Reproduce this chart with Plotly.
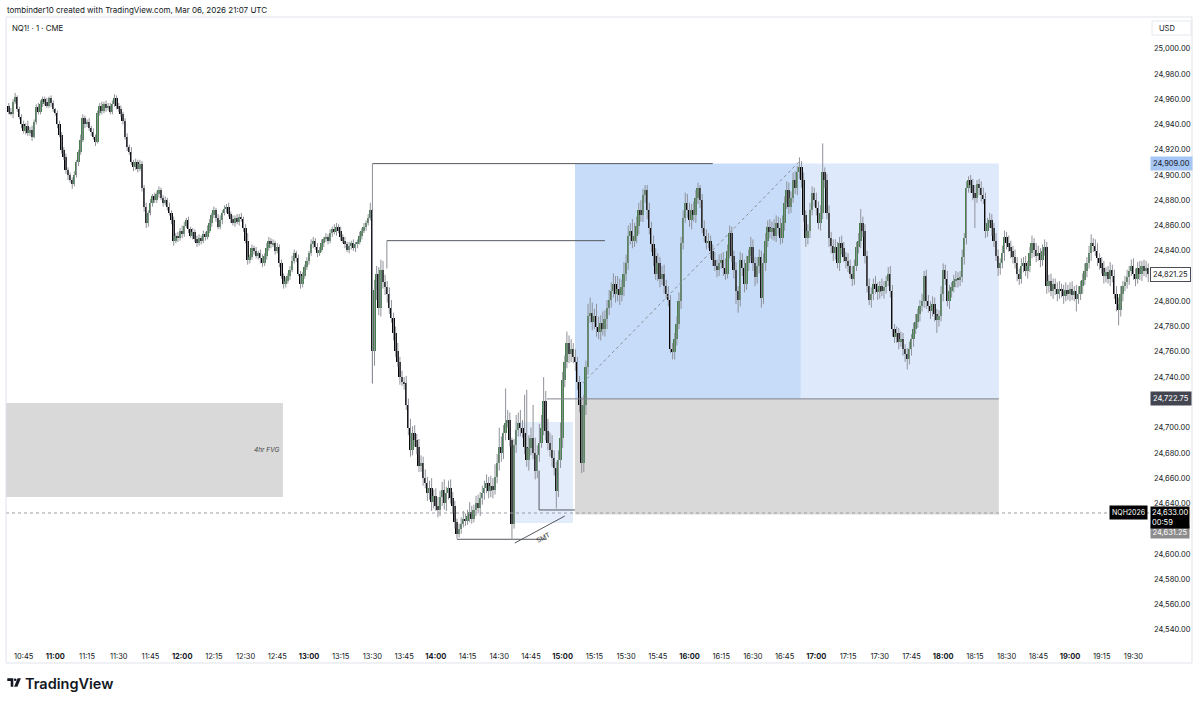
import pandas as pd
import plotly.graph_objects as go

FONT = "Inter, Roboto, sans-serif"
TEXT = "#131722"

# NQ1! 1-minute candles, one row per 15 minutes
start_time = "2026-03-06 10:38"
first_open = 24955

closes = [
    24950, 24948, 24958, 24962, 24952, 24946, 24940, 24935, 24939, 24933, 24936, 24930, 24942, 24954, 24950,  # 10:38
    24956, 24960, 24958, 24955, 24961, 24957, 24952, 24949, 24940, 24932, 24920, 24914, 24904, 24900, 24896,  # 10:53
    24893, 24900, 24910, 24918, 24928, 24945, 24940, 24942, 24937, 24934, 24930, 24926, 24949, 24955, 24951,  # 11:08
    24956, 24953, 24955, 24950, 24956, 24961, 24955, 24952, 24948, 24943, 24930, 24922, 24918, 24910, 24906,  # 11:23
    24910, 24905, 24909, 24890, 24875, 24862, 24870, 24878, 24883, 24880, 24885, 24888, 24882, 24878, 24880,  # 11:38
    24875, 24870, 24864, 24848, 24852, 24850, 24856, 24853, 24860, 24864, 24857, 24852, 24855, 24849, 24846,  # 11:53
    24850, 24848, 24853, 24851, 24856, 24862, 24868, 24872, 24866, 24859, 24864, 24870, 24873, 24875, 24869,  # 12:08
    24865, 24862, 24866, 24863, 24867, 24865, 24858, 24848, 24833, 24835, 24842, 24840, 24836, 24838, 24834,  # 12:23
    24830, 24836, 24842, 24848, 24845, 24846, 24840, 24843, 24830, 24820, 24814, 24816, 24820, 24825, 24832,  # 12:38
    24838, 24834, 24822, 24814, 24820, 24827, 24832, 24838, 24845, 24848, 24843, 24838, 24841, 24846, 24849,  # 12:53
    24851, 24848, 24854, 24857, 24855, 24859, 24856, 24851, 24848, 24845, 24841, 24844, 24846, 24842, 24845,  # 13:08
    24847, 24852, 24856, 24859, 24862, 24866, 24872, 24761, 24809, 24822, 24795, 24825, 24815, 24811, 24806,  # 13:23
    24795, 24787, 24775, 24761, 24752, 24740, 24736, 24735, 24718, 24700, 24682, 24696, 24690, 24685, 24670,  # 13:38
    24672, 24660, 24656, 24648, 24652, 24641, 24646, 24638, 24635, 24645, 24651, 24640, 24648, 24652, 24644,  # 13:53
    24638, 24625, 24616, 24620, 24624, 24628, 24626, 24630, 24633, 24628, 24635, 24640, 24636, 24644, 24648,  # 14:08
    24652, 24656, 24650, 24654, 24651, 24661, 24672, 24685, 24680, 24696, 24704, 24706, 24690, 24624, 24686,  # 14:23
    24698, 24704, 24700, 24696, 24685, 24674, 24684, 24692, 24680, 24666, 24678, 24688, 24700, 24721, 24697,  # 14:38
    24688, 24682, 24676, 24668, 24650, 24674, 24692, 24738, 24752, 24767, 24758, 24762, 24756, 24752, 24736,  # 14:53
    24718, 24672, 24718, 24748, 24788, 24791, 24784, 24788, 24780, 24776, 24783, 24778, 24786, 24795, 24801,  # 15:08
    24808, 24814, 24806, 24810, 24805, 24811, 24822, 24830, 24852, 24856, 24848, 24852, 24860, 24872, 24868,  # 15:23
    24884, 24888, 24872, 24858, 24845, 24836, 24822, 24830, 24818, 24822, 24812, 24806, 24801, 24762, 24760,  # 15:38
    24770, 24782, 24800, 24846, 24866, 24878, 24872, 24864, 24872, 24868, 24882, 24890, 24880, 24858, 24852,  # 15:53
    24846, 24848, 24840, 24833, 24828, 24825, 24830, 24833, 24826, 24822, 24840, 24854, 24836, 24825, 24808,  # 16:08
    24801, 24833, 24826, 24814, 24830, 24836, 24843, 24830, 24819, 24828, 24835, 24803, 24830, 24848, 24859,  # 16:23
    24855, 24858, 24852, 24862, 24858, 24850, 24862, 24878, 24888, 24875, 24882, 24896, 24890, 24902, 24906,  # 16:38
    24896, 24868, 24850, 24856, 24872, 24886, 24880, 24874, 24862, 24870, 24902, 24896, 24870, 24850, 24844,  # 16:53
    24838, 24843, 24830, 24846, 24842, 24835, 24832, 24828, 24822, 24818, 24828, 24843, 24848, 24862, 24856,  # 17:08
    24836, 24812, 24801, 24806, 24814, 24810, 24807, 24812, 24808, 24811, 24816, 24822, 24808, 24778, 24772,  # 17:23
    24775, 24768, 24770, 24762, 24758, 24754, 24762, 24770, 24778, 24784, 24790, 24796, 24800, 24820, 24800,  # 17:38
    24796, 24792, 24798, 24790, 24785, 24788, 24806, 24825, 24818, 24800, 24808, 24811, 24816, 24818, 24817,  # 17:53
    24819, 24835, 24850, 24890, 24896, 24892, 24886, 24882, 24893, 24890, 24884, 24881, 24856, 24862, 24864,  # 18:08
    24858, 24848, 24836, 24826, 24830, 24838, 24851, 24846, 24843, 24840, 24835, 24830, 24822, 24818, 24828,  # 18:23
    24830, 24824, 24828, 24838, 24846, 24841, 24836, 24838, 24833, 24840, 24843, 24812, 24816, 24808, 24814,  # 18:38
    24810, 24806, 24810, 24808, 24804, 24809, 24806, 24810, 24805, 24808, 24802, 24806, 24812, 24817, 24824,  # 18:53
    24830, 24838, 24846, 24844, 24840, 24834, 24830, 24826, 24820, 24823, 24818, 24825, 24820, 24806, 24798,  # 19:08
    24793, 24806, 24812, 24815, 24819, 24824, 24828, 24822, 24818, 24826, 24822, 24828, 24824, 24826, 24821.25,  # 19:23
]

# wick lengths (points) above the body top and below the body bottom
upper_wick = [
    2, 3, 2, 3, 1, 2, 2, 3, 2, 4, 2, 3, 2, 2, 3,
    3, 2, 2, 3, 1, 2, 2, 1, 2, 3, 2, 2, 3, 2, 2,
    2, 3, 2, 2, 4, 3, 2, 2, 3, 2, 3, 2, 2, 2, 3,
    2, 3, 2, 2, 3, 3, 2, 2, 3, 2, 2, 3, 2, 4, 2,
    3, 2, 3, 2, 2, 3, 2, 3, 2, 3, 2, 3, 2, 2, 3,
    2, 3, 2, 3, 2, 3, 2, 4, 3, 2, 3, 2, 3, 2, 3,
    3, 2, 3, 2, 4, 3, 2, 3, 2, 3, 4, 2, 3, 2, 3,
    2, 3, 2, 3, 2, 3, 2, 3, 6, 2, 3, 2, 3, 2, 3,
    3, 2, 4, 3, 2, 3, 2, 3, 2, 3, 2, 3, 2, 3, 4,
    3, 2, 3, 2, 3, 2, 3, 2, 4, 3, 2, 3, 2, 3, 2,
    3, 2, 3, 2, 4, 3, 2, 3, 2, 3, 2, 3, 2, 3, 2,
    2, 3, 2, 3, 2, 3, 6, 1, 8, 6, 5, 8, 7, 6, 5,
    5, 6, 4, 5, 6, 4, 5, 4, 6, 5, 7, 5, 6, 5, 6,
    6, 5, 7, 5, 6, 8, 5, 6, 7, 5, 6, 8, 5, 6, 7,
    5, 4, 3, 4, 5, 6, 4, 5, 8, 5, 4, 6, 7, 5, 6,
    6, 7, 5, 8, 6, 10, 7, 15, 8, 6, 27, 8, 6, 2, 5,
    12, 8, 10, 6, 30, 45, 10, 8, 26, 12, 8, 15, 10, 19, 8,
    10, 8, 12, 6, 5, 8, 12, 6, 5, 9, 6, 8, 5, 6, 4,
    5, 6, 8, 5, 10, 12, 8, 6, 10, 8, 6, 9, 7, 6, 8,
    7, 8, 6, 10, 8, 6, 9, 7, 8, 6, 9, 10, 7, 6, 8,
    5, 4, 4, 6, 5, 7, 6, 8, 5, 6, 7, 5, 6, 4, 5,
    5, 6, 7, 5, 6, 8, 7, 6, 5, 7, 6, 4, 2, 5, 6,
    5, 6, 4, 5, 6, 5, 7, 5, 6, 8, 5, 6, 5, 4, 6,
    4, 6, 5, 7, 6, 5, 8, 6, 5, 7, 6, 5, 8, 6, 5,
    6, 5, 7, 6, 5, 8, 6, 5, 7, 6, 5, 6, 7, 5, 8,
    5, 6, 4, 5, 6, 5, 4, 6, 5, 6, 23, 4, 5, 6, 5,
    5, 6, 4, 5, 6, 5, 4, 6, 5, 6, 5, 4, 6, 11, 5,
    5, 4, 6, 5, 4, 6, 5, 4, 6, 5, 4, 5, 6, 5, 4,
    5, 4, 6, 5, 4, 5, 6, 4, 5, 6, 4, 5, 6, 4, 5,
    5, 4, 6, 5, 4, 5, 6, 5, 4, 6, 5, 4, 5, 6, 5,
    5, 6, 4, 5, 3, 4, 5, 6, 3, 4, 5, 6, 5, 4, 6,
    5, 4, 6, 5, 4, 6, 5, 4, 6, 5, 4, 6, 5, 4, 6,
    5, 6, 4, 5, 6, 4, 5, 6, 4, 5, 6, 4, 5, 6, 4,
    4, 5, 6, 4, 5, 6, 4, 5, 6, 4, 5, 6, 4, 5, 6,
    5, 6, 7, 4, 5, 6, 4, 5, 6, 4, 5, 6, 4, 5, 6,
    5, 6, 4, 5, 6, 4, 5, 6, 4, 5, 6, 4, 5, 6, 4,
]
lower_wick = [
    2, 1, 3, 2, 2, 2, 3, 2, 3, 2, 2, 3, 1, 2, 2,
    2, 2, 3, 2, 2, 3, 2, 2, 3, 2, 3, 2, 3, 4, 2,
    4, 2, 2, 3, 2, 2, 3, 2, 2, 3, 2, 3, 1, 2, 3,
    2, 3, 2, 2, 2, 2, 3, 2, 2, 3, 2, 3, 2, 2, 3,
    2, 3, 2, 3, 4, 4, 3, 2, 3, 2, 2, 3, 2, 3, 2,
    3, 2, 3, 4, 2, 3, 2, 3, 2, 2, 3, 2, 3, 2, 3,
    2, 3, 2, 3, 2, 2, 3, 2, 3, 2, 2, 3, 2, 3, 2,
    3, 2, 3, 2, 3, 2, 3, 2, 4, 3, 2, 3, 2, 3, 4,
    3, 2, 3, 2, 3, 2, 3, 2, 3, 2, 4, 3, 2, 3, 2,
    2, 3, 2, 4, 3, 2, 2, 3, 2, 3, 2, 3, 2, 2, 3,
    2, 3, 2, 3, 2, 3, 2, 3, 2, 3, 2, 3, 3, 2, 3,
    3, 2, 3, 2, 3, 2, 2, 26, 12, 8, 6, 7, 5, 6, 7,
    5, 4, 6, 5, 4, 6, 3, 5, 4, 6, 5, 4, 5, 6, 5,
    5, 6, 4, 6, 5, 7, 5, 4, 6, 5, 7, 5, 6, 5, 4,
    6, 5, 4, 3, 4, 3, 4, 3, 5, 4, 3, 5, 4, 6, 5,
    5, 4, 6, 5, 7, 4, 5, 6, 7, 5, 6, 4, 5, 12, 4,
    6, 5, 7, 4, 6, 5, 8, 6, 5, 7, 6, 5, 4, 6, 7,
    6, 5, 7, 6, 14, 5, 6, 8, 6, 5, 7, 6, 5, 7, 6,
    6, 8, 7, 8, 6, 5, 7, 6, 8, 6, 7, 5, 6, 8, 6,
    6, 5, 7, 6, 8, 5, 7, 6, 5, 7, 6, 5, 6, 7, 5,
    5, 6, 7, 5, 6, 8, 5, 6, 7, 5, 6, 4, 5, 3, 6,
    6, 5, 4, 6, 5, 4, 6, 5, 7, 5, 6, 5, 6, 4, 5,
    5, 4, 6, 5, 4, 6, 5, 4, 6, 5, 4, 6, 5, 7, 10,
    10, 5, 6, 7, 5, 6, 4, 6, 7, 5, 6, 8, 5, 6, 5,
    5, 6, 4, 5, 6, 5, 4, 6, 5, 6, 5, 4, 5, 6, 5,
    6, 5, 7, 5, 6, 4, 5, 6, 5, 6, 5, 6, 5, 7, 6,
    6, 5, 4, 6, 5, 4, 6, 5, 4, 6, 5, 4, 5, 6, 5,
    6, 5, 4, 6, 5, 4, 6, 5, 4, 6, 5, 4, 5, 6, 5,
    5, 6, 4, 5, 6, 8, 4, 5, 6, 4, 5, 6, 4, 5, 6,
    5, 6, 4, 6, 10, 5, 4, 6, 5, 4, 6, 5, 4, 5, 6,
    5, 4, 6, 5, 4, 6, 6, 24, 4, 6, 5, 4, 6, 5, 4,
    6, 5, 4, 6, 5, 4, 6, 5, 4, 6, 5, 4, 6, 5, 4,
    5, 4, 6, 5, 4, 6, 5, 4, 6, 5, 4, 6, 5, 4, 6,
    5, 6, 4, 5, 6, 4, 5, 6, 4, 5, 10, 4, 5, 6, 4,
    5, 4, 6, 5, 4, 6, 5, 4, 6, 5, 4, 6, 5, 4, 6,
    12, 5, 6, 4, 5, 6, 4, 5, 6, 4, 5, 6, 4, 5, 6,
]

time_ticks = ["10:45", "11:00", "11:15", "11:30", "11:45", "12:00", "12:15", "12:30", "12:45",
              "13:00", "13:15", "13:30", "13:45", "14:00", "14:15", "14:30", "14:45", "15:00",
              "15:15", "15:30", "15:45", "16:00", "16:15", "16:30", "16:45", "17:00", "17:15",
              "17:30", "17:45", "18:00", "18:15", "18:30", "18:45", "19:00", "19:15", "19:30"]
# price scale ticks (24,620 / 24,720 / 24,820 sit under the price tags)
price_ticks = [24540, 24560, 24580, 24600, 24640, 24660, 24680, 24700, 24740, 24760,
               24780, 24800, 24840, 24860, 24880, 24900, 24920, 24940, 24960, 24980, 25000]

day = "2026-03-06 "
x_range = [day + "10:36:40", day + "19:37:50"]
y_range = [24527.9, 25022.7]

times = pd.date_range(start_time, periods=len(closes), freq="min")
opens = [first_open] + closes[:-1]
highs = [max(o, c) + u for o, c, u in zip(opens, closes, upper_wick)]
lows = [min(o, c) - d for o, c, d in zip(opens, closes, lower_wick)]

wick_x, wick_y = [], []
for t, lo, hi in zip(times, lows, highs):
    wick_x += [t, t, None]
    wick_y += [lo, hi, None]

body_base = [min(o, c) for o, c in zip(opens, closes)]
body_size = [max(abs(c - o), 0.9) for o, c in zip(opens, closes)]
body_color = ["#467f4d" if c >= o else "#050505" for o, c in zip(opens, closes)]


def px(x):
    return (x - 6) / 1144


def py(y):
    return (645 - y) / 625


fig = go.Figure()
fig.add_trace(go.Scatter(x=wick_x, y=wick_y, mode="lines",
                         line=dict(color="#8f929a", width=1), hoverinfo="skip"))
fig.add_trace(go.Bar(x=times, y=body_size, base=body_base, width=56000,
                     marker=dict(color=body_color, line=dict(width=0)), hoverinfo="skip"))

shapes = []


def box(x0, x1, y0, y1, color, xref="x"):
    shapes.append(dict(type="rect", xref=xref, yref="y", x0=x0, x1=x1, y0=y0, y1=y1,
                       fillcolor=color, line=dict(width=0), layer="below"))


def seg(x0, y0, x1, y1, color="#5d606b", dash="solid", xref="x"):
    shapes.append(dict(type="line", xref=xref, yref="y", x0=x0, y0=y0, x1=x1, y1=y1,
                       line=dict(color=color, width=1, dash=dash), layer="above"))


# zones
box(x_range[0], day + "12:47:40", 24645.0, 24719.5, "#d9d9d9")            # 4hr FVG
box(day + "15:05:50", day + "16:52:40", 24722.75, 24909, "#c6dcf8")       # target, elapsed
box(day + "16:52:40", day + "18:26:20", 24722.75, 24909, "#deeafc")       # target, remaining
box(day + "15:05:50", day + "18:26:20", 24631.25, 24722.75, "#d9d9d9")    # stop zone
box(day + "14:37:20", day + "15:04:50", 24624.5, 24704.4, "#e2ecfb")      # small box

# drawn lines
seg(day + "13:30", 24909, day + "16:11", 24909, "#55585f")
seg(day + "13:30", 24735, day + "13:30", 24909, "#8a8d95")
seg(day + "13:36:50", 24848, day + "15:20", 24848, "#55585f")
seg(day + "13:36:50", 24826, day + "13:36:50", 24848, "#8a8d95")
seg(day + "14:52:30", 24722.75, day + "18:26:20", 24722.75, "#80838c")
seg(day + "14:48:50", 24666, day + "14:48:50", 24634.8, "#55585f")
seg(day + "14:48:50", 24634.8, day + "15:05:50", 24634.8, "#55585f")
seg(day + "14:10", 24611.6, day + "14:52:30", 24611.6, "#55585f")
seg(day + "14:37:20", 24608.6, day + "15:01", 24630, "#55585f")
seg(day + "15:09:30", 24735.3, day + "16:52:40", 24911.9, "#8a8d95", "dot")
seg(0, 24632.4, 1, 24632.4, "#9a9da5", "dot", xref="paper")

# frame around chart and price scale
shapes.append(dict(type="rect", xref="paper", yref="paper", x0=px(6), x1=px(1192),
                   y0=py(663), y1=py(17), line=dict(color="#e0e3eb", width=1)))
shapes.append(dict(type="rect", xref="paper", yref="paper", x0=px(1152), x1=px(1191),
                   y0=py(35), y1=py(21), line=dict(color="#e6e8ee", width=1)))

# TradingView mark
logo_t = "M {} {} L {} {} L {} {} L {} {} L {} {} L {} {} Z".format(
    px(7.3), py(678.3), px(13.3), py(678.3), px(13.3), py(686.7),
    px(10.7), py(686.7), px(10.7), py(681), px(7.3), py(681))
logo_v = "M {} {} L {} {} L {} {} L {} {} Z".format(
    px(17.6), py(678.3), px(20.9), py(678.3), px(17.4), py(686.7), px(14.1), py(686.7))
for p in (logo_t, logo_v):
    shapes.append(dict(type="path", xref="paper", yref="paper", path=p,
                       fillcolor=TEXT, line=dict(width=0)))
shapes.append(dict(type="circle", xref="paper", yref="paper", x0=px(13.9), x1=px(16.5),
                   y0=py(681.0), y1=py(678.4), fillcolor=TEXT, line=dict(width=0)))

ann = []


def note(text, x, y, size=7.5, color=TEXT, xanchor="left", xref="paper", yref="paper", **kw):
    ann.append(dict(text=text, x=x, y=y, xref=xref, yref=yref, xanchor=xanchor,
                    yanchor=kw.pop("yanchor", "middle"), showarrow=False,
                    font=dict(family=FONT, size=size, color=color), **kw))


note("tombinder10 created with TradingView.com, Mar 06, 2026 21:07 UTC", px(5), py(10), 8)
note("NQ1! · 1 · CME", px(10), py(28), 7.8)
note("USD", px(1167), py(28), 7.5, xanchor="center")
note("TradingView", px(23), py(683), 14.5, font_weight=600)
note("<i>4hr FVG</i>", day + "12:46:40", 24682, 6.5, "#444", xanchor="right", xref="x", yref="y")
note("SMT", day + "14:50:40", 24613, 6.5, "#333", xanchor="center", xref="x", yref="y",
     textangle=-28)

# price scale labels
scale_labels = [
    ("24,909.00", 24909, "#a6c6f6", TEXT, None),
    ("24,821.25", 24821.25, "#ffffff", TEXT, "#4a4d55"),
    ("24,722.75", 24722.75, "#434651", "#ffffff", None),
]
for text, price, bg, fg, border in scale_labels:
    extra = dict(bordercolor=border, borderwidth=1) if border else {}
    note(text, px(1150), price, 7.5, fg, yref="y", bgcolor=bg, borderpad=2, **extra)
note("24,631.25", px(1150), 24617.5, 7.5, "#ffffff", yref="y", bgcolor="#8c8c8c", borderpad=1.5)
note("24,633.00<br>00:59", px(1150), 24637.6, 7.5, "#ffffff", yref="y", yanchor="top",
     bgcolor="#000000", borderpad=1, align="left")
note("NQH2026", px(1148), 24633, 7, "#ffffff", xanchor="right", yref="y", bgcolor="#000000",
     borderpad=2)

tick_text = ["<b>%s</b>" % t if t.endswith(":00") else t for t in time_ticks]

fig.update_layout(
    width=1200, height=703,
    margin=dict(l=6, r=50, t=20, b=58, autoexpand=False),
    paper_bgcolor="white", plot_bgcolor="white",
    showlegend=False, hovermode=False, bargap=0,
    font=dict(family=FONT, size=7.5, color=TEXT),
    shapes=shapes, annotations=ann,
    xaxis=dict(type="date", range=x_range, tickvals=[day + t for t in time_ticks],
               ticktext=tick_text, showgrid=False, zeroline=False, showline=False, ticks="",
               tickfont=dict(size=7.5, color=TEXT), automargin=False, ticklabelstandoff=5),
    yaxis=dict(side="right", range=y_range, tickvals=price_ticks, tickformat=",.2f",
               showgrid=False, zeroline=False, showline=False, ticks="",
               tickfont=dict(size=7.5, color=TEXT), automargin=False, ticklabelstandoff=3),
)

# the page's default body margin would shift the figure by 8px
fig.write_html("out.html", config={"displayModeBar": False},
               post_script="document.body.style.margin='0';")
